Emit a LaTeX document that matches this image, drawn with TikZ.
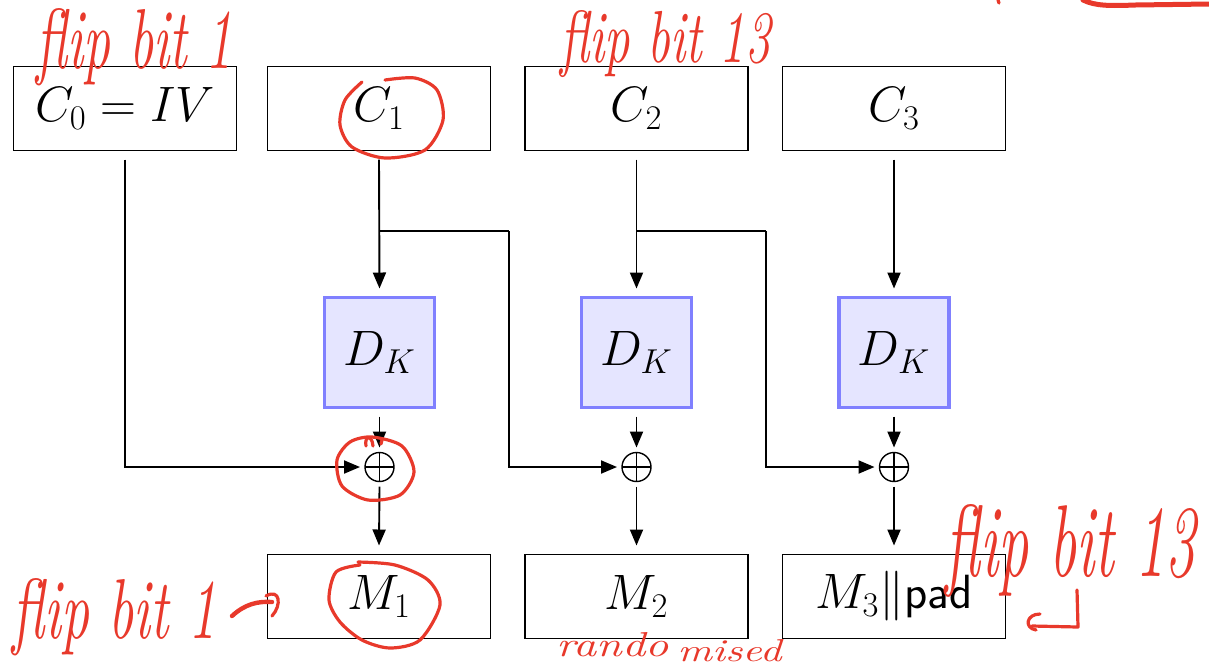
\documentclass[tikz,border=0pt]{standalone}
\usepackage{amsmath}
\usepackage{graphicx}
\usetikzlibrary{arrows.meta}
\definecolor{ink}{HTML}{E8392B}
\begin{document}
\begin{tikzpicture}[x=0.5pt,y=-0.5pt,
  box/.style={draw,line width=0.95pt,minimum width=111.5pt,minimum height=42pt,inner sep=0pt,outer sep=4.5pt,font=\fontsize{24}{28}\selectfont},
  dkbox/.style={draw=blue!50,fill=blue!10,line width=1.6pt,minimum width=55pt,minimum height=55pt,inner sep=0pt,outer sep=4.5pt,font=\fontsize{24}{28}\selectfont},
  xorop/.style={circle,draw,line width=0.7pt,minimum size=14.5pt,inner sep=0pt,outer sep=2.5pt,
    path picture={\draw[line width=0.7pt] (path picture bounding box.north) -- (path picture bounding box.south)
      (path picture bounding box.west) -- (path picture bounding box.east);}},
  arr/.style={-{Triangle[length=8pt,width=6.5pt]},line width=0.95pt},
  ln/.style={line width=0.95pt},
  redline/.style={ink,line width=1.6pt,line cap=round,line join=round},
  hand/.style={text=ink,inner sep=0pt,anchor=base west,font=\itshape}
]
\useasboundingbox (0,0) rectangle (1209,666);

% cipher blocks
\node[box] (c0) at (125,108.5) {$C_0 = IV$};
\node[box] (c1) at (379,108.5) {$C_1$};
\node[box] (c2) at (636.5,108.5) {$C_2$};
\node[box] (c3) at (894,108.5) {$C_3$};

% decryption boxes
\node[dkbox] (d1) at (379.5,352.5) {$D_K$};
\node[dkbox] (d2) at (636.5,352.5) {$D_K$};
\node[dkbox] (d3) at (894,352.5) {$D_K$};

% xors
\node[xorop] (x1) at (379.5,467) {};
\node[xorop] (x2) at (636.5,467) {};
\node[xorop] (x3) at (894,467) {};

% plaintext blocks
\node[box] (m1) at (379,596.5) {$M_1$};
\node[box] (m2) at (636.5,596.5) {$M_2$};
\node[box] (m3) at (894,596.5) {$M_3\|\textsf{pad}$};

% connectors
\draw[arr] (c0.south) |- (x1.west);
\draw[arr] (c1.south) -- (d1.north);
\draw[arr] (c2.south) -- (d2.north);
\draw[arr] (c3.south) -- (d3.north);
\coordinate (b1) at (379.5,231);
\coordinate (b1r) at (509,231);
\coordinate (b2) at (636.5,231);
\coordinate (b2r) at (766,231);
\draw[ln] (b1) -- (b1r);
\draw[arr] (b1r) |- (x2.west);
\draw[ln] (b2) -- (b2r);
\draw[arr] (b2r) |- (x3.west);
\draw[arr] (d1.south) -- (x1.north);
\draw[arr] (d2.south) -- (x2.north);
\draw[arr] (d3.south) -- (x3.north);
\draw[arr] (x1.south) -- (m1.north);
\draw[arr] (x2.south) -- (m2.north);
\draw[arr] (x3.south) -- (m3.north);

% handwritten annotations
\node[hand] (n1) at (36,68) {\resizebox{98pt}{30pt}{flip bit 1}};
\node[hand] (n2) at (560,62) {\resizebox{105pt}{26pt}{flip bit 13}};
\node[hand] (n3) at (12,638) {\resizebox{102pt}{30pt}{flip bit 1}};
\node[hand] (n4) at (945,576) {\resizebox{125pt}{36pt}{flip bit 13}};
\node[hand] (n5) at (556,656) {\resizebox{56pt}{12pt}{rando}};
\node[hand] (n6) at (677,661) {\resizebox{52pt}{11pt}{mised}};

% circles
\draw[redline] plot[smooth] coordinates {(362,82) (345,100) (340,125) (352,147) (385,158) (425,150) (443,120) (437,90) (415,78) (385,80)};
\draw[redline] plot[smooth cycle] coordinates {(372,437) (402,446) (414,472) (400,495) (368,500) (342,486) (337,460) (350,442)};
\draw[redline] (366,446) .. controls (364,436) and (372,434) .. (373,446);
\draw[redline] (382,440) -- (381,444);
\draw[redline] plot[smooth] coordinates {(360,565) (336,572) (329,600) (340,622) (362,640) (390,648) (420,640) (440,605) (428,580) (395,565) (358,562)};

% arrows of annotations
\draw[redline,line width=2.2pt] (232,616) .. controls (245,604) and (258,601) .. (272,602);
\draw[redline] (266,596) .. controls (280,588) and (282,605) .. (272,616);
\draw[redline] (1077,590) -- (1078,627) -- (1032,626);
\draw[redline] (1040,614) .. controls (1026,614) and (1024,628) .. (1036,630);
\draw[redline,line width=2.5pt] (1083,0) .. controls (1095,6) and (1110,6) .. (1135,5) -- (1209,4);
\draw[redline] (998,0) -- (999,3);
\end{tikzpicture}
\end{document}
